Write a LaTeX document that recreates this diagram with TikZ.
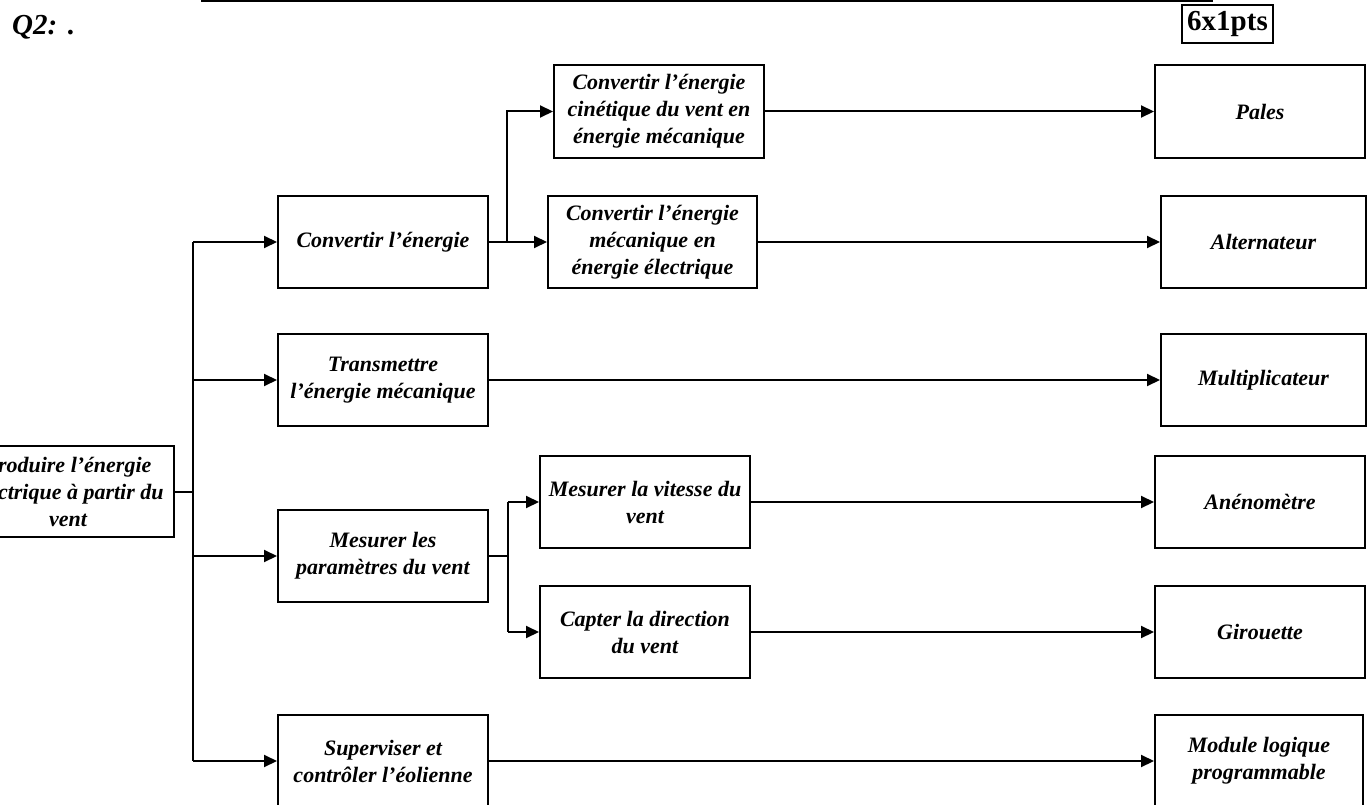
\documentclass[tikz,border=0pt]{standalone}
\usepackage{fontspec}
\setmainfont{Liberation Serif}
\usetikzlibrary{arrows.meta}
\tikzset{
  box/.style={draw, line width=2pt, inner sep=0pt, align=center,
    font=\bfseries\itshape\fontsize{22}{27}\selectfont},
  conn/.style={line width=2pt},
  arr/.style={line width=2pt, -{Triangle[length=13pt,width=12pt]}},
}
\begin{document}
\begin{tikzpicture}[x=1pt,y=-1pt]
\useasboundingbox (0,0) rectangle (1367,805);
\clip (0,0) rectangle (1367,805);
% header
\coordinate (hl) at (201,1);
\coordinate (hr) at (1213,1);
\draw[line width=2.4pt] (hl) -- (hr);
\node[anchor=base west, inner sep=0pt, font=\fontsize{29}{30}\selectfont] (q2) at (12,35) {\textbf{\textit{Q2:}} \textbf{.}};
\node[draw, line width=2pt, inner sep=0pt, minimum width=91, minimum height=38,
  font=\bfseries\fontsize{29}{30}\selectfont] (pts) at (1227.5,24) {6x1pts};
% root
\node[box, minimum width=212, minimum height=91] (P) at (68,491.5)
  {Produire l’énergie\\électrique à partir du\\vent};
% level 1
\node[box, minimum width=210, minimum height=92] (C1) at (383,242) {Convertir l’énergie};
\node[box, minimum width=210, minimum height=92] (T) at (383,380) {Transmettre\\l’énergie mécanique};
\node[box, minimum width=210, minimum height=92] (M) at (383,556) {Mesurer les\\paramètres du vent};
\node[box, minimum width=210, minimum height=92] (S) at (383,761) {Superviser et\\contrôler l’éolienne};
% level 2
\node[box, minimum width=210, minimum height=93] (K) at (659,111.5) {Convertir l’énergie\\cinétique du vent en\\énergie mécanique};
\node[box, minimum width=209, minimum height=92] (E) at (652.5,242) {Convertir l’énergie\\mécanique en\\énergie électrique};
\node[box, minimum width=210, minimum height=92] (V) at (645,502) {Mesurer la vitesse du\\vent};
\node[box, minimum width=210, minimum height=92] (D) at (645,632) {Capter la direction\\du vent};
% right column
\node[box, minimum width=210, minimum height=93] (Pa) at (1260,111.5) {Pales};
\node[box, minimum width=205, minimum height=92] (Al) at (1263.5,242) {Alternateur};
\node[box, minimum width=205, minimum height=92] (Mu) at (1263.5,380) {Multiplicateur};
\node[box, minimum width=210, minimum height=92] (An) at (1260,502) {Anénomètre};
\node[box, minimum width=210, minimum height=92] (Gi) at (1260,632) {Girouette};
\node[box, minimum width=208, minimum height=92] (Mo) at (1259,761) {Module logique\\programmable};
% trunk
\coordinate (tr) at (193,0);
\draw[conn] (P.east) -- (P.east -| tr);
\draw[conn] (tr |- C1.west) -- (tr |- S.west);
\draw[arr] (tr |- C1.west) -- (C1.west);
\draw[arr] (tr |- T.west) -- (T.west);
\draw[arr] (tr |- M.west) -- (M.west);
\draw[arr] (tr |- S.west) -- (S.west);
% branch 1
\coordinate (b1) at (507,0);
\draw[conn] (C1.east) -- (C1.east -| b1);
\draw[arr] (b1 |- C1.east) -- (b1 |- K.west) -- (K.west);
\draw[arr] (b1 |- C1.east) -- (E.west);
% branch 2
\coordinate (b2) at (508,0);
\draw[conn] (M.east) -- (M.east -| b2);
\draw[conn] (b2 |- V.west) -- (b2 |- D.west);
\draw[arr] (b2 |- V.west) -- (V.west);
\draw[arr] (b2 |- D.west) -- (D.west);
% to right column
\draw[arr] (K.east) -- (Pa.west);
\draw[arr] (E.east) -- (Al.west);
\draw[arr] (T.east) -- (Mu.west);
\draw[arr] (V.east) -- (An.west);
\draw[arr] (D.east) -- (Gi.west);
\draw[arr] (S.east) -- (Mo.west);
\end{tikzpicture}
\end{document}
